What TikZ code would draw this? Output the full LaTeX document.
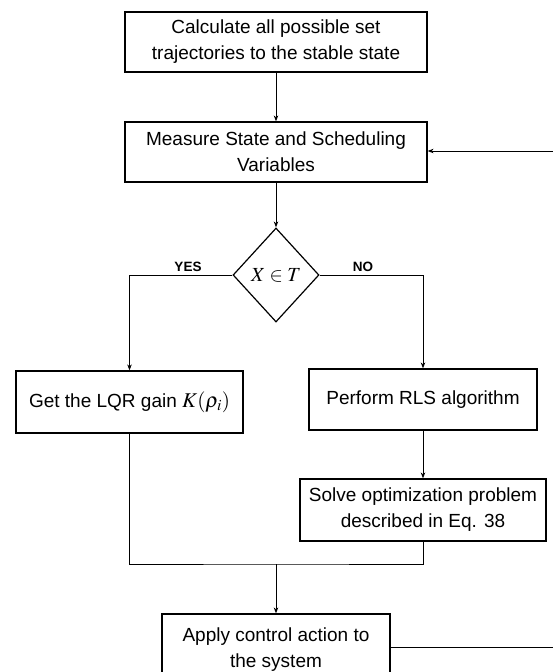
\documentclass[tikz,border=0pt]{standalone}
\usepackage{mathptmx}
\usepackage{fontspec}
\setmainfont{Liberation Sans}
\usetikzlibrary{arrows.meta,shapes.geometric}
\begin{document}
\begin{tikzpicture}[x=1pt,y=-1pt,
  box/.style={draw,line width=1.2pt,align=center,inner sep=0pt,
    font=\fontsize{19}{26}\selectfont},
  arr/.style={-{Stealth[length=6pt,width=4.5pt]},line width=1pt},
  ln/.style={line width=1pt},
  lbl/.style={font=\bfseries\fontsize{13.5}{15}\selectfont,inner sep=0pt}]
\useasboundingbox (0,0) rectangle (553,672);
\node[box,minimum width=302,minimum height=60] (calc) at (276,42)
  {Calculate all possible set\\trajectories to the stable state};
\node[box,minimum width=302,minimum height=60] (meas) at (276,152)
  {Measure State and Scheduling\\Variables};
\node[draw,diamond,line width=1.2pt,inner sep=0pt,minimum width=86,minimum height=94,
  font=\fontsize{20}{22}\selectfont] (dec) at (276,275) {$X\in T$};
\node[box,minimum width=227,minimum height=62] (lqr) at (129.5,402)
  {Get the LQR gain {\fontsize{21}{26}\selectfont$K(\rho_i)$}};
\node[box,minimum width=228,minimum height=61] (rls) at (423,399.5)
  {Perform RLS algorithm};
\node[box,minimum width=246,minimum height=62] (solve) at (423,510)
  {Solve optimization problem\\described in Eq. 38};
\node[box,minimum width=228,minimum height=72] (apply) at (276,650)
  {Apply control action to\\the system};
\node[lbl] (yes) at (188,267) {YES};
\node[lbl] (no) at (363,267) {NO};
\coordinate (join) at (276,564);
\coordinate (fbin) at (553,151);
\coordinate (fbout) at (553,647);
\draw[arr] (calc) -- (meas);
\draw[arr] (meas) -- (dec);
\draw[arr] (dec.west) -| (lqr.north);
\draw[arr] (dec.east) -| (rls.north);
\draw[arr] (rls) -- (solve);
\draw[ln] (lqr.south) |- (join) -| (solve.south);
\draw[arr] (join) -- (apply);
\draw[ln] (fbout -| apply.east) -- (fbout);
\draw[arr] (fbin) -- (fbin -| meas.east);
\end{tikzpicture}
\end{document}
